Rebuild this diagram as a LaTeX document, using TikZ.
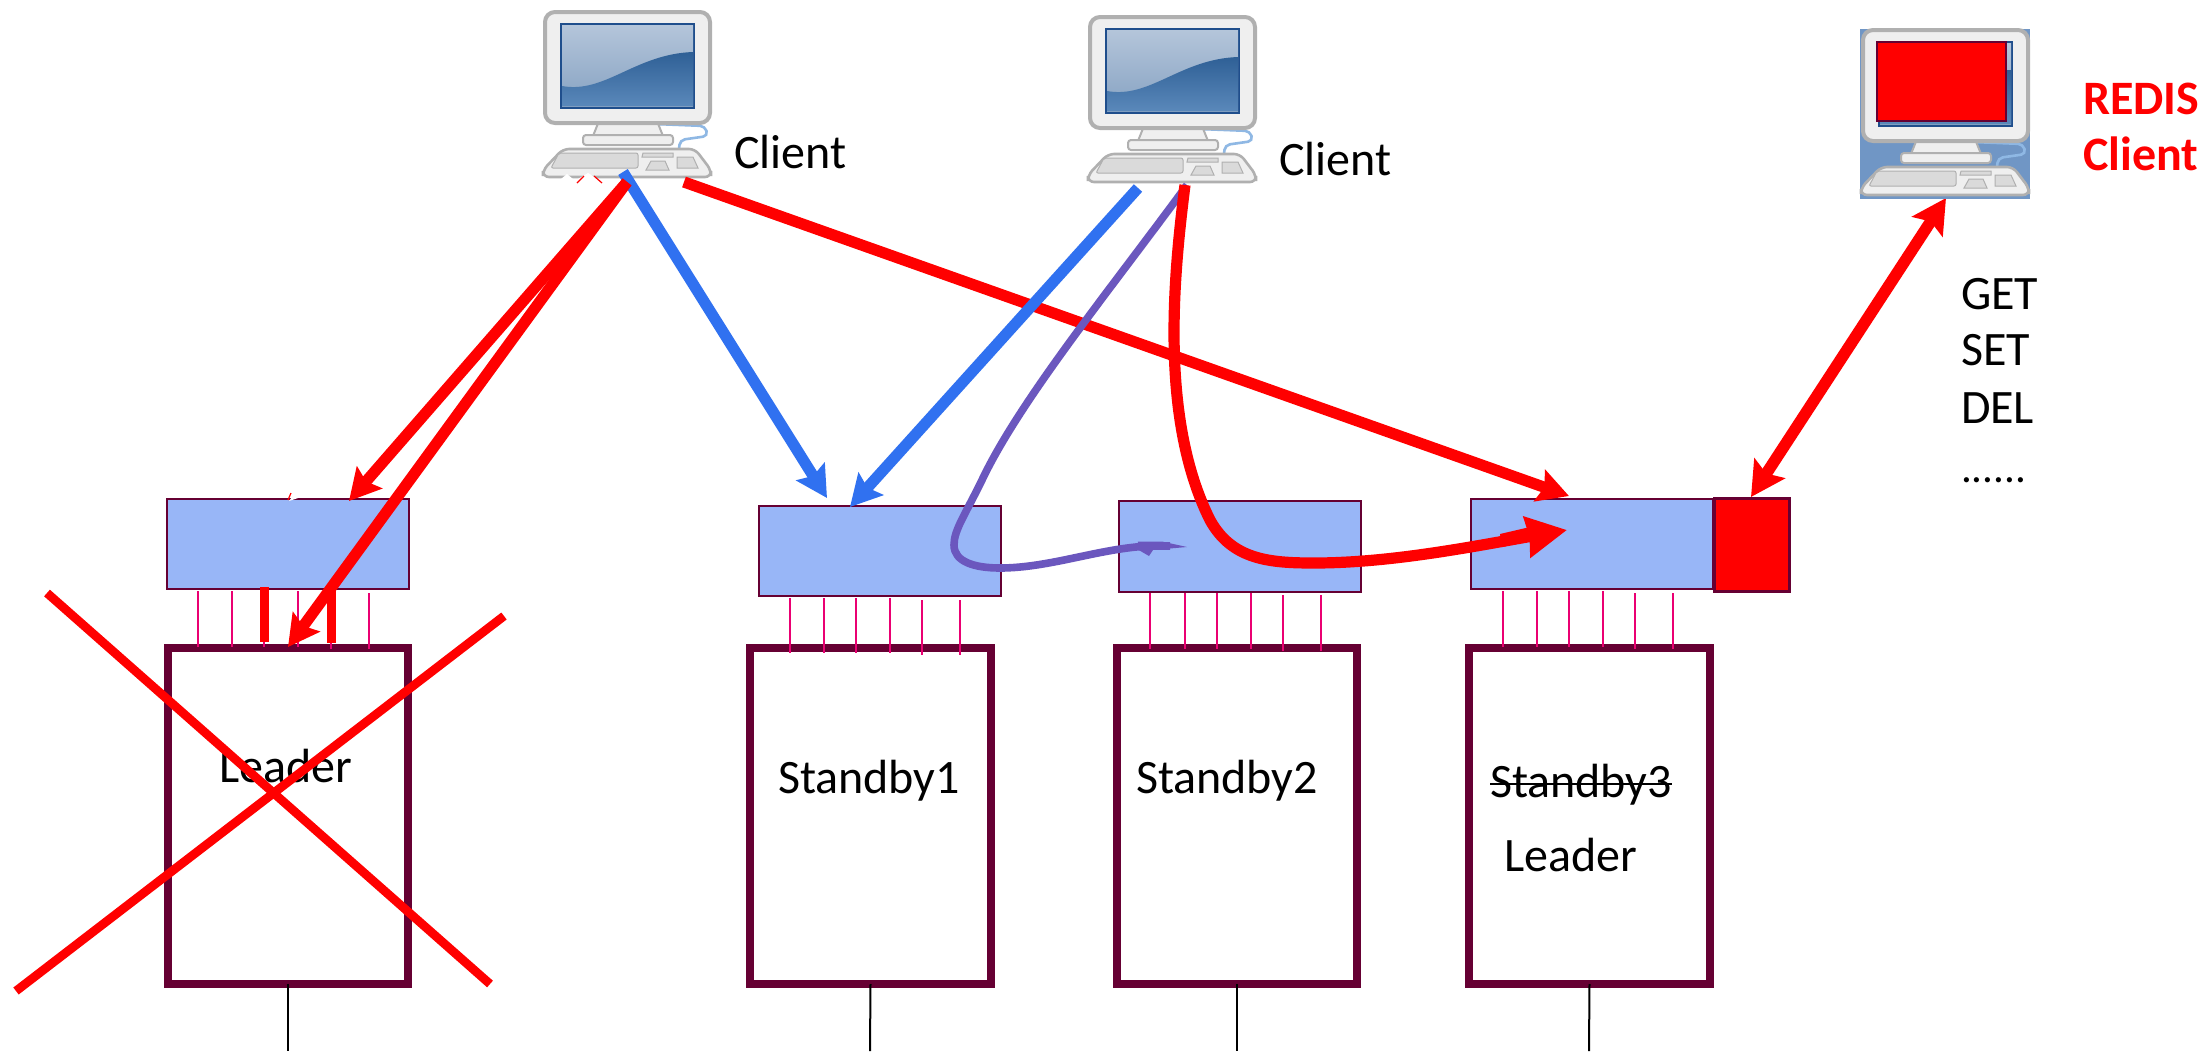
\documentclass[tikz,border=0pt]{standalone}
\usepackage{fontspec}
\setmainfont{Carlito}
\usetikzlibrary{arrows.meta,calc}
\definecolor{maroon}{HTML}{660033}
\definecolor{qfill}{HTML}{98B6F7}
\definecolor{tickc}{HTML}{EA0072}
\definecolor{blueline}{HTML}{3071F0}
\definecolor{purp}{HTML}{6B57BE}
\definecolor{pcbody}{HTML}{EFEFEF}
\definecolor{pcedge}{HTML}{B0B0B0}
\definecolor{pckeys}{HTML}{DADADA}
\definecolor{pcframe}{HTML}{1F4E8C}
\definecolor{pcback}{HTML}{7096C5}
\definecolor{scrtop}{HTML}{B4C5DA}
\definecolor{scrmid}{HTML}{86A2C2}
\definecolor{swtop}{HTML}{2F6096}
\definecolor{swbot}{HTML}{5A88BA}
\definecolor{cablec}{HTML}{8FB8E4}
\tikzset{
  queue/.style={draw=maroon,fill=qfill,line width=1.25pt,inner sep=0pt,outer sep=0pt},
  redbox/.style={draw=maroon,fill=red,line width=1.5pt,inner sep=0pt,outer sep=0pt},
  server/.style={draw=maroon,fill=white,line width=4.4pt,inner sep=0pt,outer sep=0pt},
  tickline/.style={draw=tickc,line width=1.4pt},
  thickred/.style={draw=red,line width=4.5pt},
  crossline/.style={draw=red,line width=4.4pt},
  stem/.style={draw=black,line width=1pt},
  lbl/.style={inner sep=0pt,outer sep=0pt,anchor=base west,font=\fontsize{24}{28}\selectfont,text=black},
  redlbl/.style={lbl,font=\fontsize{24}{28}\selectfont\bfseries,text=red},
  dotslbl/.style={lbl,font=\fontsize{21.5}{28}\selectfont},
  head/.style={-{Stealth[length=15.5pt,width=16.5pt,inset=2.5pt,sep=0pt]}},
  redarrow/.style={head,draw=red,fill=none,line width=5.6pt},
  bluearrow/.style={head,draw=blueline,line width=5.6pt},
  curvered/.style={-{Stealth[length=20pt,width=20pt,inset=1pt,sep=0pt]},draw=red,line width=5.6pt},
  curvepurp/.style={draw=purp,line width=3.8pt},
  bothred/.style={{Stealth[length=17pt,width=18pt,inset=3pt,sep=0pt]}-{Stealth[length=17pt,width=18pt,inset=3pt,sep=0pt]},draw=red,line width=5.8pt},
  pcanchor/.style={inner sep=0pt,outer sep=0pt,minimum width=83pt,minimum height=84pt,anchor=north west}
}
% computer icon, drawn from the top left corner of its monitor
\newcommand{\pcicon}[2]{%
\begin{scope}[shift={(#1,#2)}]
  % cable
  \draw[draw=cablec,line width=1.3pt,rounded corners=2.5pt] (110,112) -- (160,114) -- (163,124) -- (135,128) -- (134,137);
  % stand
  \fill[pcbody,draw=pcedge,line width=1pt] (54,109) -- (112,109) -- (118,124) -- (48,124) -- cycle;
  \fill[pcbody,draw=pcedge,line width=1pt,rounded corners=1.5pt] (38,123) -- (128,123) -- (128,133) -- (38,133) -- cycle;
  % keyboard
  \fill[pcbody,draw=pcedge,line width=1.3pt,rounded corners=3pt] (18,137) -- (150,137) -- (166,158) -- (166,165) -- (-2,165) -- (-2,158) -- cycle;
  \fill[pckeys,draw=pcedge,line width=.5pt,rounded corners=1pt] (14,141) -- (93,141) -- (93,156) -- (6,156) -- cycle;
  \fill[pckeys,draw=pcedge,line width=.5pt] (98,141) -- (128,141) -- (128,145) -- (97,145) -- cycle;
  \fill[pckeys,draw=pcedge,line width=.5pt] (106,149) -- (120,149) -- (124,158) -- (101,158) -- cycle;
  \fill[pckeys,draw=pcedge,line width=.5pt] (132,145) -- (148,145) -- (153,156) -- (132,156) -- cycle;
  % monitor
  \fill[pcbody,draw=pcedge,line width=2pt,rounded corners=5pt] (0,0) rectangle (165,111);
  \fill[pcframe] (15,11) rectangle (150,97);
  \begin{scope}
    \clip (17,13) rectangle (148,94);
    \shade[top color=scrtop,bottom color=scrmid] (17,13) rectangle (148,94);
    \shade[top color=swtop,bottom color=swbot]
      (17,74) .. controls (60,82) and (90,42) .. (148,40) -- (148,94) -- (17,94) -- cycle;
  \end{scope}
\end{scope}}
\begin{document}
\begin{tikzpicture}[x=0.5pt,y=-0.5pt]
\useasboundingbox (0,0) rectangle (2208,1051);
\fill[white] (0,0) rectangle (2208,1051);

% computers under the arrows
\node[pcanchor] (pc1) at (545,12) {};
\node[pcanchor] (pc2) at (1090,17) {};
\pcicon{545}{12}
\pcicon{1090}{17}
% marks at the first keyboard
\fill[white] (561,179) -- (567,174) -- (573,179) -- cycle;
\fill[white] (578,179) -- (588,173) -- (598,179) -- cycle;
\draw[red,line width=.6pt] (577,183) -- (584,176);
\draw[red,line width=.6pt] (594,176) -- (602,183);

% queues
\node[queue,minimum width=121pt,minimum height=45pt] (q0) at (288,544) {};
\node[queue,minimum width=121pt,minimum height=45pt] (q1) at (880,551) {};
\node[queue,minimum width=121pt,minimum height=45.5pt] (q2) at (1240,546.5) {};
\node[queue,minimum width=121pt,minimum height=45pt] (q3) at (1592,544) {};
\node[redbox,minimum width=37.5pt,minimum height=46.5pt] (rq) at (1751.5,544.5) {};

% servers
\node[server,minimum width=120pt,minimum height=168pt] (b0) at (288,816) {};
\node[server,minimum width=120.5pt,minimum height=168pt] (b1) at (870.5,816) {};
\node[server,minimum width=120pt,minimum height=168pt] (b2) at (1237,816) {};
\node[server,minimum width=120.5pt,minimum height=168pt] (b3) at (1589.5,816) {};

% links between queue and server
\newcommand{\tickrow}[5]{\foreach \x in {#5}{\draw[tickline,shorten <=#3,shorten >=#4] (\x,0 |- #1.south) -- (\x,0 |- #2.north);}}
\tickrow{q0}{b0}{1pt}{0.5pt}{198,232,264,298}
\tickrow{q0}{b0}{2pt}{-0.5pt}{331,369}
\tickrow{q1}{b1}{1pt}{-2.5pt}{790,824,856,890}
\tickrow{q1}{b1}{2pt}{-3.5pt}{922,960}
\tickrow{q2}{b2}{0.5pt}{-0.5pt}{1150,1185,1217,1251}
\tickrow{q2}{b2}{1.5pt}{-1.5pt}{1283,1321}
\tickrow{q3}{b3}{1pt}{0.5pt}{1503,1537,1569,1603}
\tickrow{q3}{b3}{2pt}{-0.5pt}{1635,1673}
\draw[thickred,shorten <=-1pt,shorten >=3pt] (264,0 |- q0.south) -- (264,0 |- b0.north);
\draw[thickred,shorten <=0pt,shorten >=2.5pt] (331,0 |- q0.south) -- (331,0 |- b0.north);

% lines below the servers
\coordinate (e0) at (288,1051);
\coordinate (e1) at (870,1051);
\coordinate (e2) at (1237,1051);
\coordinate (e3) at (1589,1051);
\draw[stem] (b0.south) -- (e0);
\draw[stem] (b1.south) -- (e1);
\draw[stem] (b2.south) -- (e2);
\draw[stem] (b3.south) -- (e3);

% labels
\node[lbl] (t1) at (734,168) {Client};
\node[lbl] (t2) at (1279,175) {Client};
\node[redlbl] (t3) at (2083,114) {REDIS};
\node[redlbl] (t4) at (2083,170) {Client};
\node[lbl] (t5) at (1961,309) {GET};
\node[lbl] (t6) at (1961,365) {SET};
\node[lbl] (t7) at (1961,423) {DEL};
\node[dotslbl] (t8) at (1961,482) {......};
\node[lbl] (t9) at (219,782) {Leader};
\node[lbl] (t10) at (778,793) {Standby1};
\node[lbl] (t11) at (1136,793) {Standby2};
\node[lbl] (t12) at (1490,797) {Standby3};
\node[lbl] (t13) at (1504,871) {Leader};
\draw[black,line width=.9pt] ($(t12.base west)+(0,-13)$) -- ($(t12.base east)+(0,-13)$);

% the crossed out leader
\coordinate (x1a) at (47,593);
\coordinate (x1b) at (490,984);
\coordinate (x2a) at (16,991);
\coordinate (x2b) at (504,616);
\draw[crossline] (x1a) -- (x1b);
\draw[crossline] (x2a) -- (x2b);
\draw[red,line width=.6pt] (291,493) -- (288,500);
\fill[white] (289,501) -- (292,497) -- (298,498) -- cycle;

% connectors
\coordinate (s1) at (627,182);
\coordinate (s2) at (623,172);
\coordinate (s3) at (684,182);
\coordinate (s4) at (1138,188);
\coordinate (s5) at (1187,185);
\coordinate (s6) at (1185,185);
\coordinate (tq0) at (349,501);
\coordinate (tb0) at (288,647);
\coordinate (tq1a) at (827,498);
\coordinate (tq1b) at (850,507);
\coordinate (tq3a) at (1569,496);
\coordinate (tq3b) at (1567,530);
\coordinate (tq2) at (1187,547);
\coordinate (trq) at (1751,497);
\coordinate (tpc3) at (1946,198);

\draw[bluearrow] (s2) -- (tq1a);
\draw[redarrow] (s1) -- (tq0);
\draw[redarrow] (s1) -- (tb0);
\draw[redarrow] (s3) -- (tq3a);
\draw[bluearrow] (s4) -- (tq1b);
\draw[curvepurp] (s5) .. controls (1110,290) and (1020,400) .. (982,480)
  .. controls (965,515) and (954,530) .. (954,545)
  .. controls (954,562) and (975,568) .. (1000,568)
  .. controls (1050,568) and (1100,548) .. (1150,546) -- (1170,546);
\fill[purp] (1138,541.5) -- (1162,541.5) -- (tq2) -- (1153,550) -- (1149,556) -- (1137,549) -- cycle;
\draw[curvered] (s6) .. controls (1173,280) and (1160,420) .. (1210,520)
  .. controls (1232,560) and (1270,563) .. (1314,563)
  .. controls (1390,563) and (1470,547) .. (tq3b);
\fill[red] (1500,534) -- (1530,527) -- (1530,541) -- (1502,547) -- cycle;
\draw[bothred] (trq) -- (tpc3);

% the Redis client on top
\node[pcanchor,minimum width=85pt,minimum height=85pt] (pc3) at (1860,29) {};
\fill[pcback] (1860,29) rectangle (2030,199);
\pcicon{1863}{30}
\fill[red,draw=maroon,line width=1.2pt] (1877,42) rectangle (2006,121);
\end{tikzpicture}
\end{document}
